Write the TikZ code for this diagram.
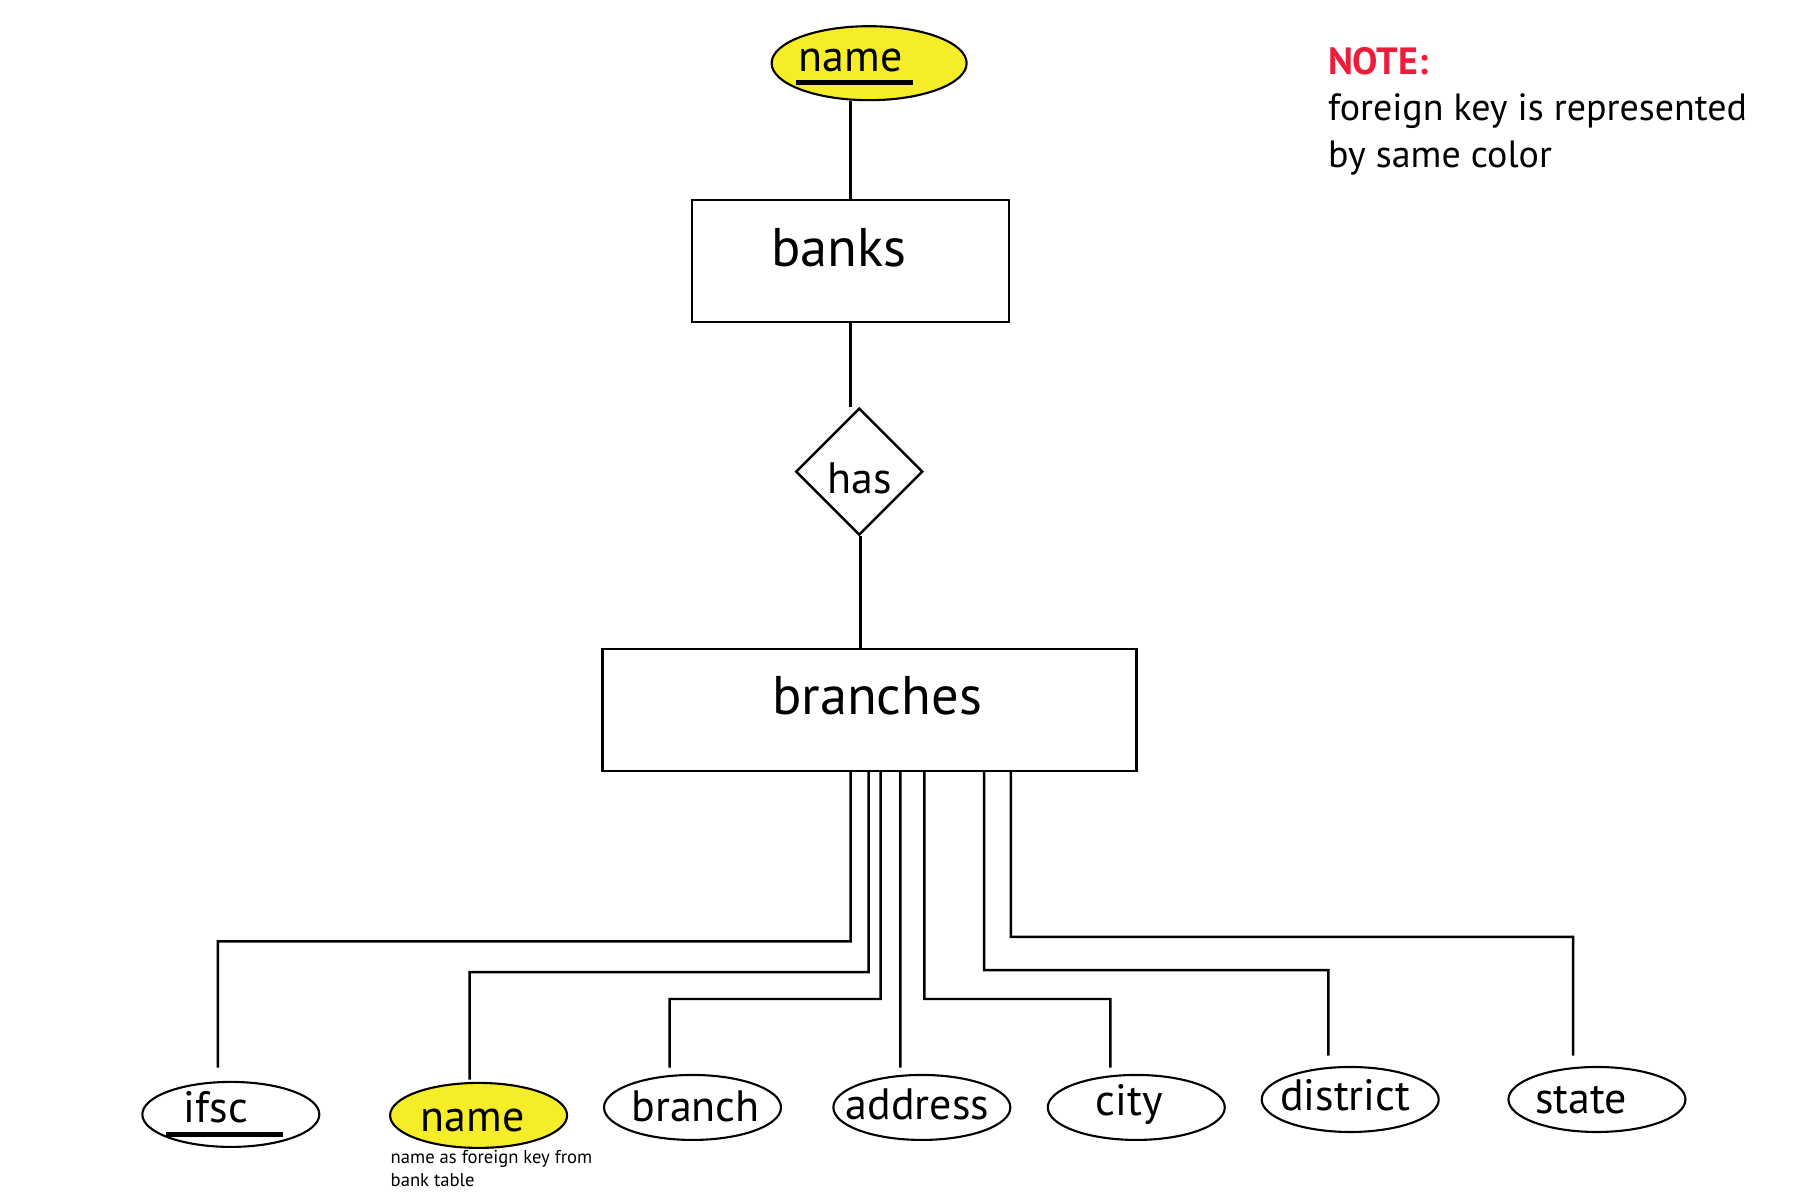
\documentclass[tikz,border=0pt]{standalone}
\usepackage{fontspec}
\setmainfont{PT Sans}
\usetikzlibrary{shapes.geometric,calc,positioning}
\definecolor{keyyellow}{RGB}{245,237,40}
\definecolor{notered}{RGB}{237,28,58}
\tikzset{
    link/.style={line width=0.7pt},
    entity/.style={draw,rectangle,line width=0.7pt,inner sep=0pt},
    attr/.style={draw,ellipse,line width=0.6pt,minimum width=1.77cm,minimum height=0.65cm,inner sep=0pt},
    keyattr/.style={attr,fill=keyyellow},
    txt/.style={inner sep=0pt,anchor=base},
    bigtxt/.style={txt,font=\fontsize{15.5}{18}\selectfont},
    midtxt/.style={txt,font=\fontsize{12.5}{15}\selectfont},
    notetxt/.style={inner sep=0pt,anchor=base west,font=\fontsize{10.8}{13}\selectfont},
    smalltxt/.style={inner sep=0pt,anchor=base west,font=\fontsize{5.3}{7}\selectfont},
}
\newcommand{\keybar}[3]{\draw[line width=1.4pt] (#1,#3)--(#2,#3);}

\begin{document}
\begin{tikzpicture}
    \path[use as bounding box] (0,0) rectangle (18,-12);
    \begin{scope}[scale=0.995]
    % entities and relation
    \node[keyattr,minimum width=1.95cm,minimum height=0.74cm] (kname) at (8.735,-0.635) {};
    \node[entity,minimum width=3.17cm,minimum height=1.22cm] (banks) at (8.55,-2.625) {};
    \node[draw,diamond,line width=0.7pt,inner sep=0pt,minimum width=1.27cm,minimum height=1.27cm] (has) at (8.635,-4.74) {};
    \node[entity,minimum width=5.34cm,minimum height=1.22cm] (br) at (8.74,-7.135) {};
    \node[midtxt] (knamet) at (8.55,-0.715) {name};
    \keybar{8.00}{9.18}{-0.83}
    \node[bigtxt] (bankst) at (8.43,-2.68) {banks};
    \node[midtxt] (hast) at (8.64,-4.96) {has};
    \node[bigtxt] (brt) at (8.815,-7.18) {branches};
    \draw[link] (banks.north) -- (banks.north |- kname.south);
    \draw[link] (banks.south) -- (banks.south |- has.north);
    \draw[link] (8.65,0 |- has.south) -- (8.65,0 |- br.north);
    % attributes
    \node[attr] (ifsc) at (2.32,-11.20) {};
    \node[keyattr] (bname) at (4.81,-11.21) {};
    \node[attr] (branch) at (6.96,-11.13) {};
    \node[attr] (address) at (9.265,-11.13) {};
    \node[attr] (city) at (11.42,-11.13) {};
    \node[attr] (district) at (13.57,-11.05) {};
    \node[attr] (state) at (16.05,-11.05) {};
    \node[midtxt] at (2.17,-11.28) {ifsc};
    \keybar{1.67}{2.84}{-11.40}
    \node[midtxt] at (4.75,-11.37) {name};
    \node[midtxt] at (6.99,-11.27) {branch};
    \node[midtxt] at (9.22,-11.25) {address};
    \node[midtxt] at (11.35,-11.21) {city};
    \node[midtxt] at (13.52,-11.16) {district};
    \node[midtxt] at (15.89,-11.19) {state};
    % connectors
    \foreach \n/\xa/\ym/\xb/\ye in {ifsc/8.55/9.46/2.19/10.73, bname/8.73/9.77/4.72/10.85,
        branch/8.85/10.04/6.73/10.73, address/9.05/10.04/9.05/10.73, city/9.29/10.04/11.16/10.73,
        district/9.89/9.75/13.35/10.61, state/10.16/9.415/15.81/10.61}
    {
        \coordinate (\n-end) at (\xb,-\ye);
        \draw[link] (\xa,0 |- br.south) |- (\xb,-\ym) -- (\n-end);
    }
    % note
    \node[notetxt,text=notered,font=\fontsize{10.8}{13}\selectfont\bfseries] (note) at (13.34,-0.75) {NOTE:};
    \node[notetxt] (note1) at (13.34,-1.21) {foreign key is represented};
    \node[notetxt] (note2) at (13.34,-1.685) {by same color};
    \node[smalltxt] (cap1) at (3.92,-11.69) {name as foreign key from};
    \node[smalltxt] (cap2) at (3.92,-11.92) {bank table};
    \end{scope}
\end{tikzpicture}
\end{document}
